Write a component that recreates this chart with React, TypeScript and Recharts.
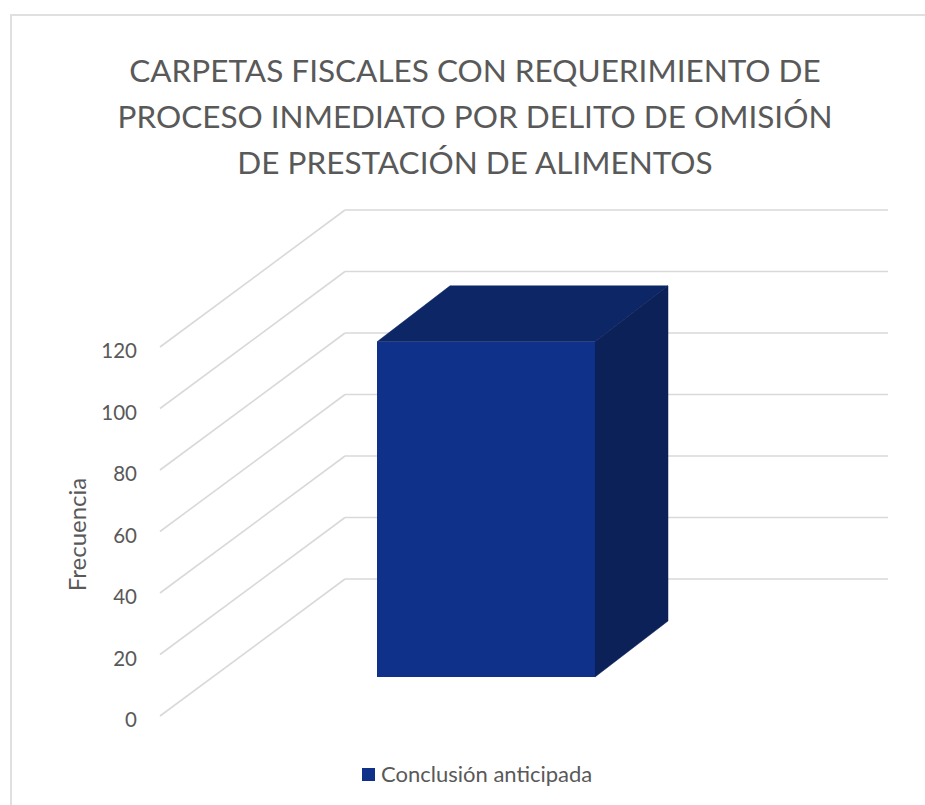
import React from "react";
import { BarChart, Bar, XAxis, YAxis, CartesianGrid, Legend } from "recharts";

const categories = ["Proceso inmediato"];
const seriesName = "Conclusión anticipada";
const seriesValues = [109];
const yTicks = [0, 20, 40, 60, 80, 100, 120];
const titleLines = [
  "CARPETAS FISCALES CON REQUERIMIENTO DE",
  "PROCESO INMEDIATO POR DELITO DE OMISIÓN",
  "DE PRESTACIÓN DE ALIMENTOS",
];
const yLabel = "Frecuencia";

const rows = categories.map((c, i) => ({ category: c, value: seriesValues[i] }));

const FONT = "Lato, 'Open Sans', sans-serif";
const TEXT = "#595959";
const GRID = "#d9d9d9";
const FRONT = "#10318a";
const TOP = "#0d2666";
const SIDE = "#0b2158";

// Perspective of the back wall and of the box
const WALL_DX = 185;
const WALL_DY = 137;
const BOX_DX = 73;
const BOX_DY = 56;
const BOX_SHIFT_X = 54;
const BOX_SHIFT_Y = 39;

function GridLine(props: any) {
  const { x1, x2, y1 } = props;
  return (
    <g>
      <line x1={x1} y1={y1} x2={x1 + WALL_DX} y2={y1 - WALL_DY} stroke={GRID} strokeWidth={1.6} />
      <line x1={x1 + WALL_DX} y1={y1 - WALL_DY} x2={x2 + WALL_DX} y2={y1 - WALL_DY} stroke={GRID} strokeWidth={1.6} />
    </g>
  );
}

function Box(props: any) {
  const { x, y, width, height } = props;
  const l = x + BOX_SHIFT_X;
  const r = l + width;
  const t = y - BOX_SHIFT_Y;
  const b = t + height;
  return (
    <g>
      <polygon points={`${l},${t} ${l + BOX_DX},${t - BOX_DY} ${r + BOX_DX},${t - BOX_DY} ${r},${t}`} fill={TOP} stroke={TOP} strokeWidth={0.5} />
      <polygon points={`${r},${t} ${r + BOX_DX},${t - BOX_DY} ${r + BOX_DX},${b - BOX_DY} ${r},${b}`} fill={SIDE} stroke={SIDE} strokeWidth={0.5} />
      <rect x={l} y={t} width={width} height={height} fill={FRONT} />
    </g>
  );
}

function LegendContent() {
  return (
    <div style={{ display: "flex", alignItems: "center", fontFamily: FONT, fontSize: 22, color: TEXT, lineHeight: "26px" }}>
      <span style={{ display: "inline-block", width: 13, height: 13, background: FRONT, marginRight: 6 }} />
      <span>{seriesName}</span>
    </div>
  );
}

export default function App() {
  return (
    <div style={{ position: "fixed", left: 0, top: 0, width: 925, height: 805, overflow: "hidden", background: "#fff" }}>
      <div style={{ position: "absolute", left: 10, top: 14, width: 930, height: 800, border: "2px solid #e0e0e0" }} />
      <div
        style={{
          position: "absolute",
          left: 0,
          top: 47,
          width: 950,
          textAlign: "center",
          fontFamily: FONT,
          fontSize: 31.5,
          lineHeight: "46px",
          color: TEXT,
          zIndex: 2,
        }}
      >
        {titleLines.map((t) => (
          <div key={t}>{t}</div>
        ))}
      </div>
      <BarChart
        width={925}
        height={805}
        data={rows}
        margin={{ top: 347, bottom: 63, left: 100, right: 222 }}
        style={{ position: "absolute", left: 0, top: 0 }}
      >
        <CartesianGrid vertical={false} horizontal={(p: any) => <GridLine key={p.key} {...p} />} />
        <XAxis dataKey="category" hide />
        <YAxis
          width={60}
          domain={[0, 120]}
          ticks={yTicks}
          axisLine={false}
          tickLine={false}
          tickMargin={17}
          tick={{ fill: TEXT, fontSize: 20.5, fontFamily: FONT, dy: 4 }}
          label={{
            value: yLabel,
            angle: -90,
            position: "insideLeft",
            dx: -28,
            dy: 3,
            style: { fill: TEXT, fontSize: 24, fontFamily: FONT, textAnchor: "middle" },
          }}
        />
        <Legend
          content={<LegendContent />}
          wrapperStyle={{ position: "absolute", left: 362, top: 761, width: "auto", bottom: "auto" }}
        />
        <Bar dataKey="value" name={seriesName} barSize={218} fill={FRONT} shape={<Box />} isAnimationActive={false} />
      </BarChart>
    </div>
  );
}
